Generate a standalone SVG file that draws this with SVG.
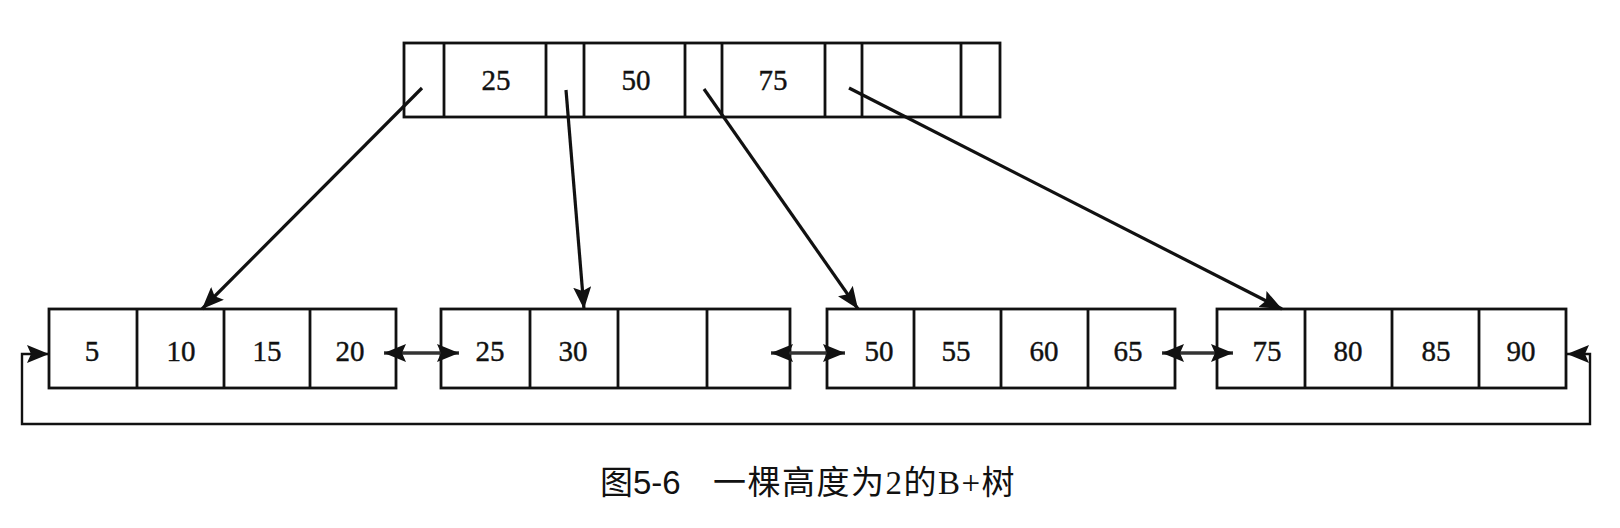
<svg xmlns="http://www.w3.org/2000/svg" width="1620" height="528" viewBox="0 0 1620 528">
<style>
.box{fill:#fff;stroke:#111;stroke-width:2.8}
.div{stroke:#111;stroke-width:2.8}
.num{font-family:"Liberation Serif",serif;font-size:29px;fill:#111;stroke:#111;stroke-width:0.4;text-anchor:middle}
.ptr{fill:none;stroke:#111;stroke-width:3.2;marker-end:url(#ah)}
.link{fill:none;stroke:#333;stroke-width:3.5;marker-start:url(#ah);marker-end:url(#ah)}
.loop{fill:none;stroke:#111;stroke-width:2.4;marker-start:url(#ah);marker-end:url(#ah)}
.cap{font-family:"Liberation Serif","Noto Sans CJK SC",serif;font-size:33px;fill:#111}
</style>
<defs>
<marker id="ah" markerUnits="userSpaceOnUse" markerWidth="24" markerHeight="18" refX="22" refY="9" orient="auto-start-reverse" viewBox="0 0 24 18">
<path d="M0,0 L22,9 L0,18 L4,9 z" fill="#111"/>
</marker>
</defs>
<rect width="1620" height="528" fill="#fff"/>

<g id="root">
<rect class="box" x="404" y="43" width="596" height="74"/>
<line class="div" x1="444" y1="43" x2="444" y2="117"/>
<line class="div" x1="546" y1="43" x2="546" y2="117"/>
<line class="div" x1="584" y1="43" x2="584" y2="117"/>
<line class="div" x1="685" y1="43" x2="685" y2="117"/>
<line class="div" x1="722" y1="43" x2="722" y2="117"/>
<line class="div" x1="825" y1="43" x2="825" y2="117"/>
<line class="div" x1="862" y1="43" x2="862" y2="117"/>
<line class="div" x1="961" y1="43" x2="961" y2="117"/>
<text class="num" x="496" y="90">25</text>
<text class="num" x="636" y="90">50</text>
<text class="num" x="773" y="90">75</text>
</g>

<g id="leaf1">
<rect class="box" x="49" y="309" width="347" height="79"/>
<line class="div" x1="137" y1="309" x2="137" y2="388"/>
<line class="div" x1="224" y1="309" x2="224" y2="388"/>
<line class="div" x1="310" y1="309" x2="310" y2="388"/>
<text class="num" x="92" y="361">5</text>
<text class="num" x="181" y="361">10</text>
<text class="num" x="267" y="361">15</text>
<text class="num" x="350" y="361">20</text>
</g>

<g id="leaf2">
<rect class="box" x="441" y="309" width="349" height="79"/>
<line class="div" x1="530" y1="309" x2="530" y2="388"/>
<line class="div" x1="618" y1="309" x2="618" y2="388"/>
<line class="div" x1="707" y1="309" x2="707" y2="388"/>
<text class="num" x="490" y="361">25</text>
<text class="num" x="573" y="361">30</text>
</g>

<g id="leaf3">
<rect class="box" x="827" y="309" width="348" height="79"/>
<line class="div" x1="914" y1="309" x2="914" y2="388"/>
<line class="div" x1="1001" y1="309" x2="1001" y2="388"/>
<line class="div" x1="1088" y1="309" x2="1088" y2="388"/>
<text class="num" x="879" y="361">50</text>
<text class="num" x="956" y="361">55</text>
<text class="num" x="1044" y="361">60</text>
<text class="num" x="1128" y="361">65</text>
</g>

<g id="leaf4">
<rect class="box" x="1217" y="309" width="349" height="79"/>
<line class="div" x1="1305" y1="309" x2="1305" y2="388"/>
<line class="div" x1="1392" y1="309" x2="1392" y2="388"/>
<line class="div" x1="1479" y1="309" x2="1479" y2="388"/>
<text class="num" x="1267" y="361">75</text>
<text class="num" x="1348" y="361">80</text>
<text class="num" x="1436" y="361">85</text>
<text class="num" x="1521" y="361">90</text>
</g>

<g id="connectors">
<line class="ptr" x1="422" y1="88" x2="202" y2="309"/>
<line class="ptr" x1="566" y1="90" x2="584" y2="309"/>
<line class="ptr" x1="704" y1="89" x2="858" y2="309"/>
<line class="ptr" x1="849" y1="88" x2="1282" y2="309"/>
<line class="link" x1="384" y1="353" x2="459" y2="353"/>
<line class="link" x1="771" y1="353" x2="845" y2="353"/>
<line class="link" x1="1162" y1="353" x2="1233" y2="353"/>
<path class="loop" d="M1567,354 L1590,354 L1590,424 L22,424 L22,354 L49,354"/>
</g>

<g id="caption">
<text class="cap" x="600" y="494">图<tspan font-family="Liberation Sans, sans-serif">5-6</tspan></text>
<text class="cap" x="713" y="494" letter-spacing="1.5">一棵高度为2的B+树</text>
</g>
</svg>
